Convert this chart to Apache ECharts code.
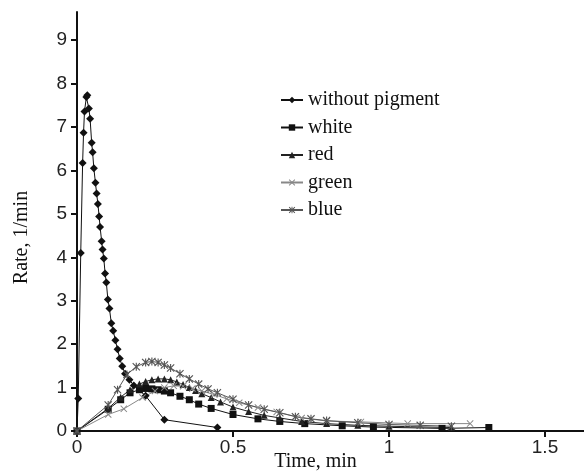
<!DOCTYPE html>
<html>
<head>
<meta charset="utf-8">
<script src="https://cdn.jsdelivr.net/npm/echarts@6/dist/echarts.min.js"></script>
<style>
  html, body { margin: 0; padding: 0; background: #fff; }
  #chart { width: 584px; height: 472px; }
</style>
</head>
<body>
<div id="chart"></div>
<script>
// datos (tiempo en min, velocidad en 1/min)
const timeNone = [0, 0.004, 0.012, 0.018, 0.021, 0.024, 0.03, 0.033, 0.038, 0.042, 0.047, 0.05, 0.054, 0.059, 0.063, 0.067, 0.071, 0.074, 0.079, 0.082, 0.086, 0.09, 0.094, 0.099, 0.104, 0.11, 0.116, 0.123, 0.13, 0.137, 0.145, 0.154, 0.168, 0.182, 0.22, 0.28, 0.45]
const rateNone = [0, 0.75, 4.1, 6.17, 6.87, 7.36, 7.69, 7.73, 7.43, 7.19, 6.64, 6.42, 6.05, 5.72, 5.47, 5.23, 4.94, 4.70, 4.37, 4.18, 3.97, 3.63, 3.42, 3.03, 2.82, 2.48, 2.31, 2.09, 1.88, 1.67, 1.49, 1.32, 1.18, 1.05, 0.81, 0.26, 0.08]

const timeWhite = [0, 0.1, 0.14, 0.17, 0.2, 0.22, 0.24, 0.26, 0.28, 0.3, 0.33, 0.36, 0.39, 0.43, 0.5, 0.58, 0.65, 0.73, 0.85, 0.95, 1.17, 1.32]
const rateWhite = [0, 0.5, 0.72, 0.88, 0.95, 0.98, 0.97, 0.95, 0.92, 0.88, 0.8, 0.72, 0.62, 0.52, 0.38, 0.28, 0.22, 0.17, 0.12, 0.09, 0.06, 0.08]

const timeRed = [0, 0.1, 0.14, 0.17, 0.2, 0.22, 0.24, 0.26, 0.28, 0.3, 0.32, 0.34, 0.36, 0.38, 0.4, 0.43, 0.46, 0.5, 0.55, 0.6, 0.65, 0.72, 0.8, 0.9, 1.0, 1.2]
const rateRed = [0, 0.52, 0.78, 0.95, 1.08, 1.14, 1.18, 1.2, 1.2, 1.18, 1.13, 1.07, 1.0, 0.93, 0.86, 0.77, 0.67, 0.55, 0.45, 0.36, 0.3, 0.22, 0.17, 0.13, 0.11, 0.08]

const timeGreen = [0, 0.1, 0.15, 0.21, 0.25, 0.28, 0.31, 0.34, 0.37, 0.4, 0.44, 0.48, 0.52, 0.58, 0.64, 0.72, 0.8, 0.91, 1.06, 1.26]
const rateGreen = [0, 0.38, 0.51, 0.77, 0.92, 1.0, 1.04, 1.03, 0.98, 0.92, 0.84, 0.74, 0.65, 0.54, 0.44, 0.3, 0.23, 0.21, 0.17, 0.17]

const timeBlue = [0, 0.1, 0.13, 0.16, 0.19, 0.22, 0.24, 0.26, 0.28, 0.3, 0.33, 0.36, 0.39, 0.42, 0.45, 0.5, 0.55, 0.6, 0.65, 0.7, 0.75, 0.8, 0.9, 1.0, 1.1, 1.2]
const rateBlue = [0, 0.6, 0.95, 1.3, 1.48, 1.58, 1.6, 1.58, 1.52, 1.45, 1.32, 1.2, 1.08, 0.97, 0.88, 0.73, 0.6, 0.5, 0.42, 0.33, 0.28, 0.24, 0.19, 0.15, 0.13, 0.11]

const xTicks = [0, 0.5, 1, 1.5]
const yTicks = [0, 1, 2, 3, 4, 5, 6, 7, 8, 9]

const symX    = 'path://M0,1L1,0L5,4L9,0L10,1L6,5L10,9L9,10L5,6L1,10L0,9L4,5Z'
const symStar = 'path://M0,1L1,0L5,4L9,0L10,1L6,5L10,9L9,10L5,6L1,10L0,9L4,5Z M4.3,0L5.7,0L5.7,10L4.3,10Z'

const zip = (xs, ys) => xs.map((x, i) => [x, ys[i]])

function serie(nombre, xs, ys, symbol, size, color) {
  return {
    name      : nombre,
    type      : 'line',
    data      : zip(xs, ys),
    symbol    : symbol,
    symbolSize: size,
    showAllSymbol: true,
    animation : false,
    lineStyle : { color: color, width: 1 },
    itemStyle : { color: color }
  }
}

const chart = echarts.init(document.getElementById('chart'))
chart.setOption({
  backgroundColor: '#fff',
  grid: { left: 77, right: 0, top: 12, bottom: 41, outerBoundsMode: 'none' },
  legend: {
    orient   : 'vertical',
    left     : 275,
    top      : 85,
    itemGap  : 7.5,
    itemWidth: 22,
    itemHeight: 8,
    textStyle: { fontFamily: 'Liberation Serif', fontSize: 20, color: '#111' },
    data     : ['without pigment', 'white', 'red', 'green', 'blue']
  },
  xAxis: {
    type    : 'value',
    min     : 0,
    max     : 1.625,
    interval: 0.5,
    name    : 'Time, min',
    nameLocation: 'middle',
    nameGap : 21,
    nameMoveOverlap: false,
    nameTextStyle: { fontFamily: 'Liberation Serif', fontSize: 20, color: '#111', verticalAlign: 'top', padding: [0, 30, 0, 0] },
    axisLine : { lineStyle: { color: '#111', width: 2 } },
    axisTick : { length: 6, lineStyle: { color: '#111', width: 2 } },
    splitLine: { show: false },
    axisLabel: {
      fontFamily: 'Liberation Sans', fontSize: 19, color: '#222', margin: 7,
      showMaxLabel: false,
      formatter: v => xTicks.includes(v) ? String(v) : ''
    }
  },
  yAxis: {
    type    : 'value',
    min     : 0,
    max     : 9.65,
    interval: 1,
    name    : 'Rate, 1/min',
    nameLocation: 'middle',
    nameGap : 45,
    nameMoveOverlap: false,
    nameTextStyle: { fontFamily: 'Liberation Serif', fontSize: 20, color: '#111', padding: [0, 32, 0, 0] },
    axisLine : { show: true, lineStyle: { color: '#111', width: 2 } },
    axisTick : { show: true, length: 6, lineStyle: { color: '#111', width: 2 } },
    splitLine: { show: false },
    axisLabel: {
      fontFamily: 'Liberation Sans', fontSize: 19, color: '#222', margin: 10,
      showMaxLabel: false,
      formatter: v => yTicks.includes(v) ? String(v) : ''
    }
  },
  series: [
    serie('without pigment', timeNone, rateNone, 'diamond', 8, '#111'),
    serie('white', timeWhite, rateWhite, 'rect', 7, '#111'),
    serie('red', timeRed, rateRed, 'triangle', 7, '#222'),
    serie('green', timeGreen, rateGreen, symX, 7, '#888'),
    serie('blue', timeBlue, rateBlue, symStar, 8, '#555')
  ]
})
</script>
</body>
</html>
